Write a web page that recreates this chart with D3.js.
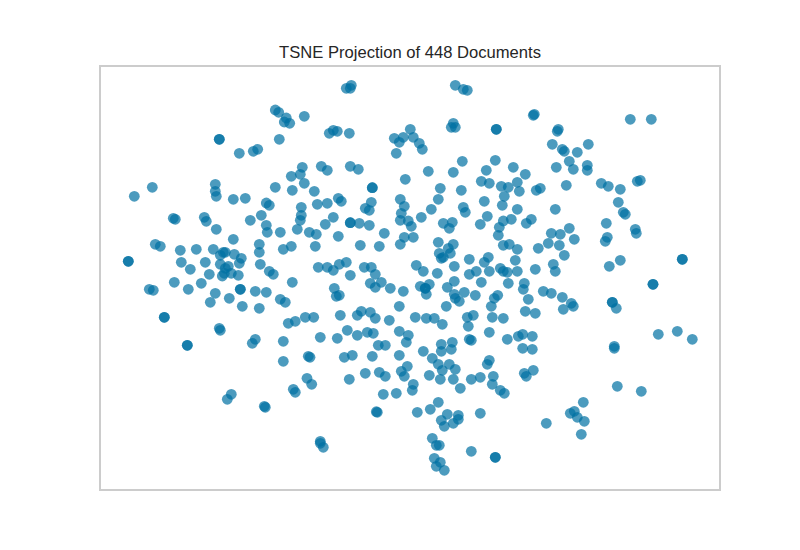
<!DOCTYPE html>
<html><head><meta charset="utf-8">
<script src="https://cdn.jsdelivr.net/npm/d3@7"></script>
<style>html,body{margin:0;padding:0;background:#fff}svg{display:block}</style>
</head><body><div id="chart"></div>
<script>
const chartTitle = "TSNE Projection of 448 Documents";
const upperLeft = [[175.3,380],[178.7,377.7],[186.3,372],[184.3,368],[189.7,366.7],[204.3,373.7],[119.3,350.7],[119.3,350.7],[179.3,350.7],[139.3,336.7],[153.3,338.7],[157.7,340.7],[202.3,322.7],[191.3,313.7],[200.3,315.7],[204.3,306.7],[175.3,302.7],[192.3,299.7],[52.3,302.7],[34.3,293.7],[115.3,305.7],[115.3,298.7],[116.3,293.7],[133.3,290.7],[145.3,291.7],[166.3,287],[169.3,284.7],[201.3,282.7],[201.3,274.7],[200.3,269.7],[161.3,274.7],[150.3,269.7],[73.3,271.7],[75.3,270.7],[104.3,272.7],[106.3,268.7],[116.3,260.7],[166.3,264.7],[167.3,257.7],[197.3,260.7],[180.3,257.7],[209.3,257.7],[133.3,250.7],[159.3,245.7],[159.3,237.7],[191.3,243.7],[183.3,240.7],[55.3,245.7],[60.3,243.7],[80.3,239.7],[96.3,240.7],[113.3,240.7],[120.3,234.7],[123.3,237.7],[125.3,237.7],[134.3,235.7],[141.3,231.7],[139.3,226.7],[81.3,227.7],[105.3,227.7],[90.3,220.7],[120.3,225.7],[128.3,223.7],[125.3,221.7],[131.3,216.7],[124.3,216.7],[109.3,215.7],[138.3,214.7],[160.3,225.7],[169.3,218.7],[173.3,215.7],[122.3,214],[28.3,228.7],[28.3,228.7]];
const lowerLeft = [[74.3,207.7],[88.3,200.7],[101.3,206.7],[192.3,207.7],[49.3,200.7],[53.3,199.7],[115.3,196.7],[140.3,200.7],[140.3,200.7],[155.3,198.7],[166.3,197.7],[110.3,187.7],[129.3,191.7],[142.3,183.7],[159.3,181.7],[180.3,190.7],[185.3,187.7],[64.3,172.7],[64.3,172.7],[188.3,166.7],[195.3,168.7],[205.3,172.7],[119.3,161.7],[120.3,159.7],[155.3,150.7],[152.3,146.7],[183.3,148.7],[87.3,144.7],[87.3,144.7],[183.3,128.7],[208.3,133.7],[210,132.7],[207,111.7],[211.7,105.7],[193.3,100.7],[195.3,97.7],[131.3,95.7],[127.3,90.7],[164.3,83.7],[165.3,82.7],[213.7,172.7]];
const upperMiddle = [[251.3,404.7],[246.3,401.7],[250.3,401.7],[355.3,404.7],[363.3,400.7],[367.3,399.7],[353.3,366.7],[351.3,362.7],[355.3,362.7],[396.3,360.7],[396.3,360.7],[229.3,356.7],[233.3,359.7],[237.3,358.7],[249.3,356.7],[310.3,360.7],[294.3,351.7],[303.3,352.7],[299.3,347.7],[313.3,352.7],[319.3,346.7],[322.3,340.7],[296.3,336.7],[221.3,323.7],[227.3,319.7],[250.3,323.7],[258.3,320.7],[328.3,318.7],[305.3,310.7],[362.3,328.7],[353.3,317.7],[395.3,329.7],[413.3,322.7],[386.3,319.7],[381.3,308.7],[389.3,306.7],[401.3,303.7],[408.3,302.7],[417.3,307.7],[419.3,298.7],[340.3,301.7],[361.3,299.7],[214.3,298.7],[272.3,302.3],[272.3,302.3],[238.3,291.7],[241.3,288.7],[217.3,285.7],[227.3,286.7],[300.3,290.7],[304.3,283.7],[338.3,290.7],[331.3,280.7],[271.3,287.7],[265.3,281.7],[269.3,279.7],[301.3,276.7],[384.3,288.7],[404.3,293.7],[402.3,284.7],[363.3,282.7],[365.3,277.7],[417.3,280.7],[387.3,273.7],[233.3,272.7],[225.3,265.7],[250.3,267.3],[250.3,267.3],[259.3,266.7],[269.3,264.7],[321.3,272.7],[300.3,269.7],[308.3,269],[311.3,263.7],[343.3,266.7],[352.3,267.7],[349.3,261.7],[380.3,265.7],[403.3,269],[411.3,270.7],[399.3,262.7],[398.3,254.7],[216.3,255.7],[238.3,253.7],[215.3,243.7],[260.3,244.7],[279.3,243.7],[284.3,256.7],[304.3,252.7],[313.3,252.7],[300.3,245.7],[338.3,247.7],[353.3,245.7],[348.3,241.7],[339.3,236.7],[350.3,236.7],[341.3,231.7],[343.3,232.7],[403.3,244.7],[409.3,245.7],[417.3,240.7],[369.3,230.7],[388.3,232.7],[384.3,227.7],[415.3,229.7],[316.3,224.7],[354.3,223.7],[323.3,218.7],[337.3,216.7],[369.3,215.7],[376.3,218.7],[389.3,218.7],[400.3,221.7],[403.3,218.7],[407.3,217.7],[417.3,218.7],[218.3,222.7],[227.3,222.7],[233.3,219.7],[239.3,225.7],[246.3,227.7],[264.3,222.7],[271.3,222.7],[275.3,215.7],[250.3,214.7]];
const lowerMiddle = [[234.3,201.7],[236.3,193.7],[239.3,194.7],[270.3,206.7],[275.3,202.7],[281.3,207.7],[290.3,201.7],[303.3,198.7],[299.3,183.7],[320.3,203.7],[325.3,201.7],[325.3,201.7],[329.3,205.7],[326.3,195.7],[347.3,202.7],[354.3,208.7],[381.3,207.7],[408.3,206.7],[364.3,197.7],[375.3,194.7],[354.3,195.7],[355.3,191.7],[359.3,188.7],[346.3,183.7],[397.7,194.7],[394.3,191.7],[391.3,183.7],[240.3,174.7],[261.3,178.7],[257.3,174.7],[270.3,177.7],[275.3,171.7],[289.3,169.7],[315.3,172.7],[326.3,171.7],[334.3,171.7],[342.3,165.7],[367.3,172.7],[373.3,174.7],[368.3,163.7],[392.3,172.7],[403.3,171.7],[247.3,159.7],[220.3,152.7],[237.3,151.7],[257.3,154.7],[267.3,157.7],[273.3,156.7],[299.3,158.7],[308.3,154.7],[306.3,147.7],[278.3,144.7],[285.3,144.7],[341.3,145.7],[352.3,147.7],[341.3,138.7],[351.3,140.7],[323.3,138.7],[369.3,150.7],[371.3,149.7],[389.3,157.7],[407.3,150.7],[418.3,153.7],[244.3,132.7],[252.3,134.7],[272.3,133.7],[299.3,134.7],[332.3,131.7],[338.3,125.7],[349.3,125.7],[342.3,119.7],[355.3,120.7],[307.3,123.7],[301.3,118.7],[304.3,113.7],[279.3,117.7],[285.3,113.7],[265.3,116.7],[249.3,110.7],[329.3,114.7],[340.3,110.7],[353.3,110.7],[371.3,110.7],[380.3,112.7],[389.3,129.7],[387.3,125.7],[393.3,113.7],[392.3,105.7],[400.3,99.7],[404.3,96.7],[360.3,101.7],[313.3,105.7],[312.3,99.7],[283.3,95.7],[296.3,96.7],[338.3,87.7],[330.3,80.7],[317.3,77.7],[276.3,78.3],[277.3,77.7],[347.3,75.7],[341.3,69.7],[344.3,63.7],[353.3,66.7],[358.3,74.7],[358.3,70.7],[380.3,76.7],[332.3,51.7],[336.3,44.7],[339.3,44.7],[220.3,48.7],[220.3,46.7],[223.3,42.7],[371.3,38.7],[395.3,32.7],[395.3,32.7],[334.3,31.7],[340.3,27.7],[336.3,23.7],[344.3,19.7]];
const upperRight = [[433.3,374.7],[434.3,375.7],[530.3,370.7],[551.3,370.7],[458.3,360.7],[457.3,358.7],[452.3,345.7],[488.3,345.7],[462.3,340.7],[464.3,338.7],[477.3,337.7],[469.3,328.7],[456.3,322.7],[473.3,320.7],[487.3,324.7],[487.3,319.7],[425.3,315.7],[466.3,304.7],[501.3,306.7],[508.3,303.7],[520.3,300.7],[537.3,308.7],[540.3,309.7],[436.3,299.7],[440.3,301.7],[518.3,287.7],[523.3,277.7],[525.3,275.7],[455.3,280.7],[431.3,270.7],[426.3,266.7],[506.3,266.7],[469.3,261.7],[451.3,256.7],[460.3,255.7],[535.3,260.7],[536.3,256.7],[507.3,252.7],[505.3,248.7],[474.3,250.7],[448.3,246.7],[459.3,244.7],[438.3,241.7],[464.3,234.7],[453.3,225.7],[435.3,220.7],[455.3,218.7],[509.3,223.7],[520.3,229.7],[582.3,230.7],[582.3,230.7]];
const lowerRight = [[424.3,206.7],[423.3,200.7],[428.3,190.7],[443.3,198.7],[451.3,196.7],[462.3,192.7],[471.3,186.7],[473.3,183.7],[463.3,180.7],[425.3,178.7],[435.3,176.7],[432.3,153.7],[422.7,155.7],[422.7,141.7],[432.3,140.7],[424.3,116.7],[426.3,113.7],[433.3,119.7],[553,205.7],[553,205.7],[512.3,187.7],[512.3,187.7],[516.3,181.7],[514.3,143.7],[514.3,141.7],[558.3,155.7],[577.3,158.7],[592.3,150.7],[517.3,103.7],[541.3,98.7],[483.3,87.7],[474.3,78.7],[470.3,76.7],[477.3,72.7],[484.3,68.7],[446.3,66.7],[481.3,55.7]];
const allPoints = [...upperLeft, ...lowerLeft, ...upperMiddle, ...lowerMiddle, ...upperRight, ...lowerRight];

const width = 800, height = 550;
const frame = {left: 100, right: 720, top: 66, bottom: 490};
const x = d3.scaleLinear().domain([0, 620]).range([frame.left, frame.right]);
const y = d3.scaleLinear().domain([0, 424]).range([frame.bottom, frame.top]);

const svg = d3.select("#chart").append("svg").attr("width", width).attr("height", height);
svg.append("rect").attr("width", width).attr("height", height).attr("fill", "#fff");
svg.append("rect")
  .attr("x", frame.left).attr("y", frame.top)
  .attr("width", frame.right - frame.left).attr("height", frame.bottom - frame.top)
  .attr("fill", "none").attr("stroke", "#cccccc").attr("stroke-width", 2);
svg.append("g").selectAll("circle").data(allPoints).join("circle")
  .attr("cx", d => x(d[0])).attr("cy", d => y(d[1])).attr("r", 5.4)
  .attr("fill", "#0071A3").attr("fill-opacity", 0.7);
svg.append("text").attr("x", (frame.left + frame.right) / 2).attr("y", 58)
  .attr("text-anchor", "middle")
  .attr("font-family", "'Liberation Sans', Arial, sans-serif")
  .attr("font-size", 16.6).attr("fill", "#262626").text(chartTitle);
</script></body></html>
